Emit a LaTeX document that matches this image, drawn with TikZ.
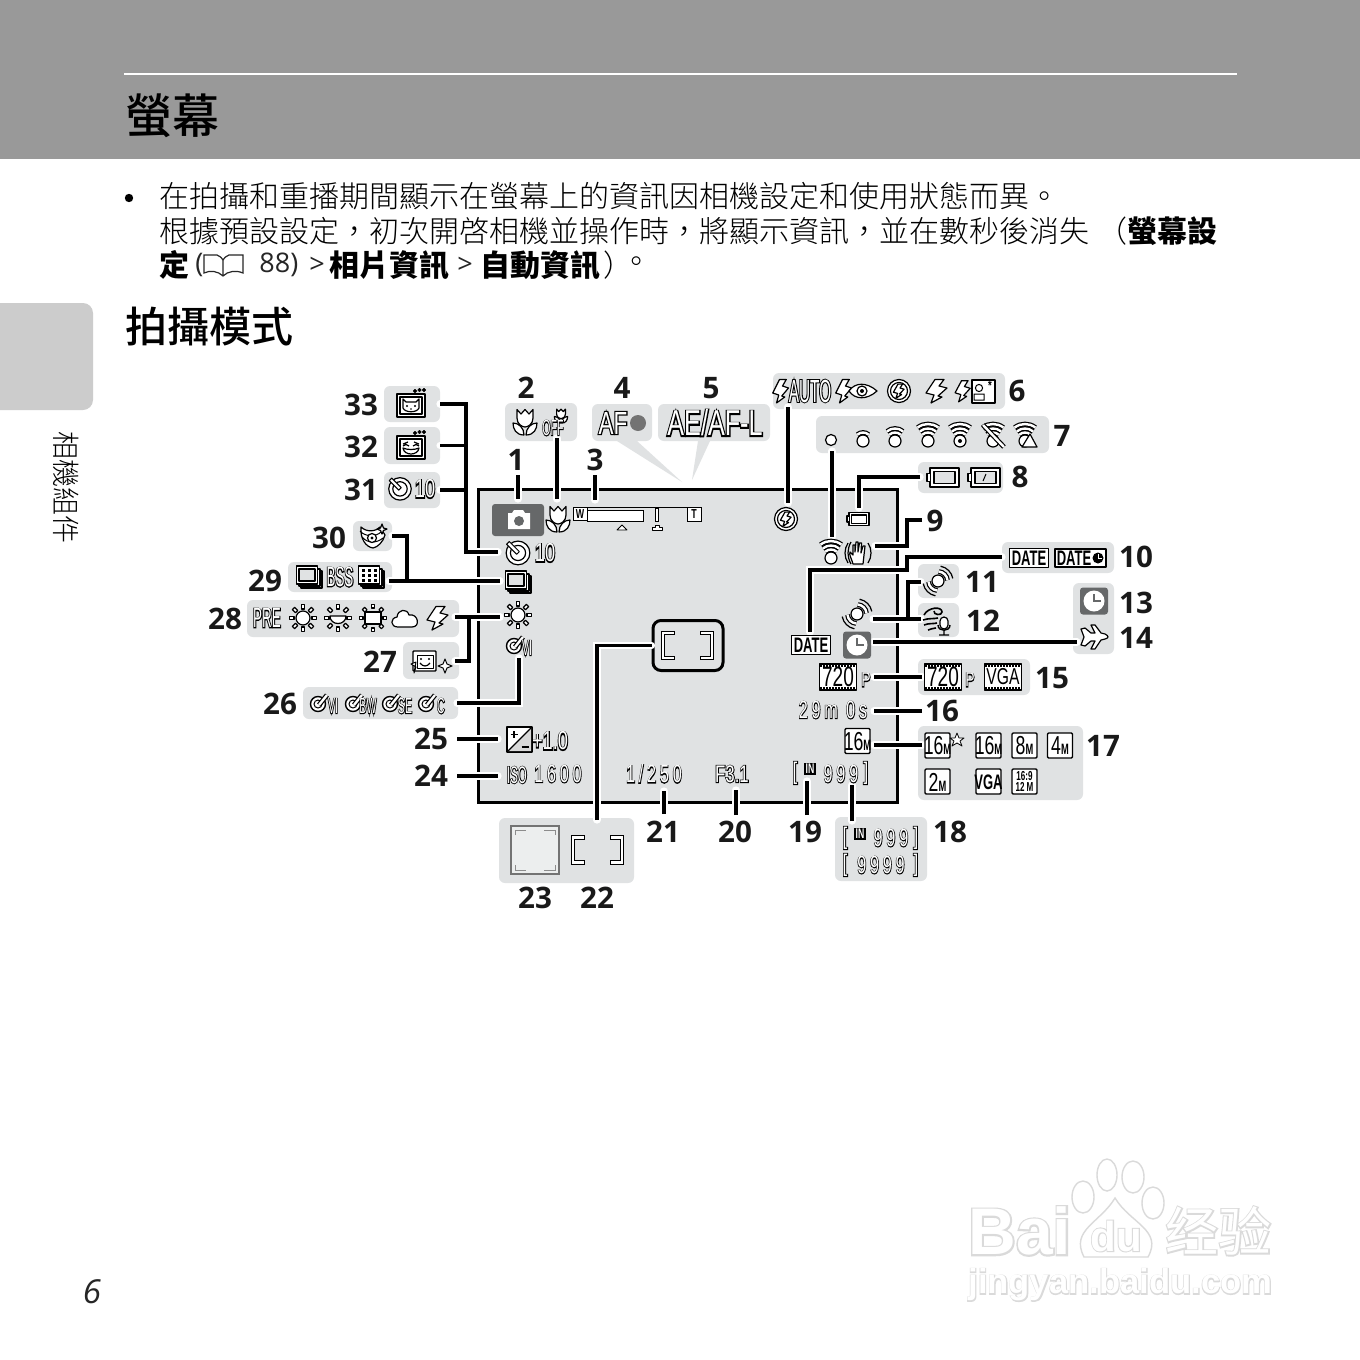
\documentclass[tikz,border=0pt]{standalone}
\usepackage{fontspec}
\setmainfont{Open Sans}
\newfontfamily\cjkl{Noto Sans CJK TC Light}
\newfontfamily\cjk{Noto Sans CJK TC}
\newfontfamily\cjkm{Noto Sans CJK TC Medium}
\newfontfamily\cjksc{Noto Sans CJK SC}
\newfontfamily\olbk[FakeStretch=.7,FakeBold=7]{Liberation Sans}
\newfontfamily\olwh[FakeStretch=.7]{Liberation Sans}
\newfontfamily\olnk[FakeStretch=.48,FakeBold=6]{Liberation Sans}
\newfontfamily\olnw[FakeStretch=.48]{Liberation Sans}
\newfontfamily\olbks[FakeStretch=.65,FakeBold=5,LetterSpace=15]{Liberation Sans}
\newfontfamily\olwhs[FakeStretch=.65,LetterSpace=15]{Liberation Sans}
\newfontfamily\nar[FakeStretch=.68]{Liberation Sans}
\newfontfamily\narb[FakeStretch=.62]{Liberation Sans Bold}
\newfontfamily\wmbk[FakeBold=5]{Liberation Sans Bold}
\newfontfamily\wmwh{Liberation Sans Bold}
\newfontfamily\wmcb[FakeBold=5]{Noto Sans CJK SC}
\definecolor{pane}{HTML}{E0E2E3}
\definecolor{hdr}{HTML}{999999}
\definecolor{tab}{HTML}{CCCCCC}
\definecolor{tile}{HTML}{666869}
\definecolor{wm}{HTML}{DADADA}
\newcommand\fz[1]{\fontsize{#1}{#1}\selectfont}
\newcommand\ol[1]{{\leavevmode\rlap{\olbk\color{black}#1}{\olwh\color{white}#1}}}
\newcommand\oln[1]{{\leavevmode\rlap{\olnk\color{black}#1}{\olnw\color{white}#1}}}
\newcommand\ols[1]{{\leavevmode\rlap{\olbks\color{black}#1}{\olwhs\color{white}#1}}}
\newcommand\wmt[1]{{\leavevmode\rlap{\wmbk\color{wm}#1}{\wmwh\color{white}#1}}}
\newcommand\wmc[1]{{\leavevmode\rlap{\wmcb\color{wm}#1}{\cjksc\color{white}#1}}}
\newcommand\Mk{{\narb\fz{7.5}M}}
\newcommand\gbox[5]{\node[gb,minimum width={(#4-#2)*0.5pt},minimum height={(#5-#3)*0.5pt}] (#1) at ({(#2+#4)/2},{(#3+#5)/2}) {};}
\newcommand\lab[3]{\node[lab] (L#1) at (#2,{#3+.8}) {#1};}
\newcommand\ict[5]{\node[ict] (#1) at (#2,#3) {\fz{#4}\ol{#5}};}
\newcommand\icn[5]{\node[ict] (#1) at (#2,#3) {\fz{#4}\ols{#5}};}
\newcommand\icc[5]{\node[ict] (#1) at (#2,#3) {\fz{#4}\oln{#5}};}
\tikzset{
 x=0.5pt,y=-0.5pt,
 gb/.style={fill=pane,rounded corners=3pt,inner sep=0pt,outer sep=0pt,draw=none},
 lab/.style={inner sep=0pt,font=\bfseries\fz{14.8},text=black!90},
 ict/.style={inner sep=0pt},
 lead/.style={draw=black,line width=1.7pt,preaction={draw=white,line width=3.6pt,line cap=round}},
 ic/.style={draw=black,fill=white,line width=.6pt,line join=round},
 band/.style={draw=black,line width=.6pt,double=white,double distance=1.2pt},
 body/.style={inner sep=0pt,anchor=west,font=\cjkl\fz{15}},
 bodyb/.style={inner sep=0pt,anchor=west,font=\cjk\bfseries\fz{15}},
 lat/.style={inner sep=0pt,anchor=west,font=\fz{13.5},text=black!85},
 pics/tulip/.style={code={
  \draw[ic] (-1,13) .. controls (-9,13) and (-12,7) .. (-12,1) .. controls (-6,1) and (-1,6) .. (-1,13) -- cycle;
  \draw[ic] (1,13) .. controls (9,13) and (12,7) .. (12,1) .. controls (6,1) and (1,6) .. (1,13) -- cycle;
  \draw[ic] (-8,-12.5) -- (-8,-4) .. controls (-8,2) and (-3,5) .. (0,5) .. controls (3,5) and (8,2) .. (8,-4) -- (8,-12.5) -- (4,-8) -- (0,-12.5) -- (-4,-8) -- cycle;
 }},
 pics/bolt/.style={code={\draw[ic] (-2,-11.5) -- (7,-11.5) -- (2,-5) -- (10,-3) -- (1,5) -- (5,6) -- (-6,12) -- (-3,4) -- (-11,2) -- cycle;}},
 pics/flashoff/.style={code={\draw[ic] (0,0) circle (11.5); \draw[ic] (0,0) circle (8.5); \pic[scale=.6,xscale=.85] at (0,0) {bolt};}},
 pics/wifi/.style={code={
  \ifnum#1>2 \draw[band] (0,5) ++(232:17) arc (232:308:17);\fi
  \ifnum#1>1 \draw[band] (0,5) ++(230:12.5) arc (230:310:12.5);\fi
  \draw[band] (0,5) ++(228:8.5) arc (228:312:8.5);
  \draw[ic] (0,5) circle (6);
 }},
 pics/batt/.style={code={
  \draw[ic,line width=.8pt] (-13,-9.5) rectangle (16,9.5);
  \draw[ic,line width=.8pt] (-13,-4) -- (-16,-4) -- (-16,4) -- (-13,4);
  \draw[ic,line width=.7pt,fill=#1] (-9,-6) rectangle (12,6);
 }},
 pics/hand/.style={code={
  \draw[ic] (-5,11) .. controls (-7,4) and (-9,2) .. (-8,-1) -- (-5,2) -- (-5,-8) -- (-3,-8) -- (-3,-1) -- (-2,-11) -- (0,-11) -- (0,-1) -- (1.5,-10) -- (3.5,-10) -- (3,0) -- (5,-7) -- (7,-7) -- (5,11) -- cycle;
  \draw[line width=.6pt] (-10,-10) .. controls (-14,-4) and (-14,4) .. (-10,10) (-7,-11) .. controls (-11,-4) and (-11,4) .. (-7,11) (10,-10) .. controls (14,-4) and (14,4) .. (10,10);
 }},
 pics/vr/.style={code={
  \draw[band] (0,0) ++(-85:9.5) arc (-85:-5:9.5);
  \draw[band] (0,0) ++(95:9.5) arc (95:175:9.5);
  \draw[line width=.6pt] (0,0) ++(-80:15) arc (-80:-10:15);
  \draw[line width=.6pt] (0,0) ++(100:15) arc (100:170:15);
  \draw[ic] (0,0) circle (6);
 }},
 pics/windmic/.style={code={
  \draw[line width=.8pt] (-14,-5) .. controls (-10,-13) and (4,-14) .. (4,-8) .. controls (4,-4) and (-5,-5) .. (-4,-9);
  \draw[line width=.8pt] (-15,0) .. controls (-9,-2) and (-4,-1) .. (0,-2) (-14,5) .. controls (-9,3) and (-5,4) .. (-1,3) (-10,10) .. controls (-7,8) and (-4,9) .. (-2,8);
  \draw[ic,rounded corners=2pt] (2,-3) rectangle (10,9);
  \draw[line width=.7pt] (0,5) .. controls (0,12) and (12,12) .. (12,5) (6,11) -- (6,15) (1,15) -- (11,15);
 }},
 pics/clock/.style={code={
  \fill[tile,rounded corners=1.5pt] (-14,-13.5) rectangle (14,13.5);
  \fill[white] (0,0) circle (10.5);
  \draw[tile,line width=1.2pt] (0,-7) -- (0,0) -- (7,0);
 }},
 pics/plane/.style={code={\draw[ic] (-13,-8) -- (-9,-9) -- (-3,-4) -- (1,-4) -- (-3,-12) -- (1,-12) -- (7,-4) -- (11,-3) .. controls (15,-1) and (15,1) .. (11,2) -- (7,3) -- (1,12) -- (-3,12) -- (1,4) -- (-3,4) -- (-9,9) -- (-13,8) -- (-10,0) -- cycle;}},
 pics/film/.style={code={
  \draw[ic] (-18.5,-13) rectangle (18.5,13);
  \draw[line width=1.3pt,dash pattern=on .9pt off .6pt] (-18,-11) -- (18,-11) (-18,11) -- (18,11);
  \node[inner sep=0pt] (t) at (0,0) {\nar\fz{14}#1};
 }},
 pics/szb/.style={code={
  \draw[ic,line width=.7pt,rounded corners=.6pt] (-12.5,-12.5) rectangle (12.5,12.5);
  \node[inner sep=0pt] (t) at (0,.5) {\nar\fz{13}#1};
 }},
 pics/sun/.style={code={
  \foreach \a in {0,45,...,315} \draw[ic,rotate=\a] (9,-1.6) rectangle (13.5,1.6);
  \draw[ic] (0,0) circle (7);
 }},
 pics/sunb/.style={code={
  \foreach \a in {0,45,...,315} \draw[ic,rotate=\a] (9,-1.6) rectangle (13.5,1.6);
  \draw[ic] (-8,-2) -- (8,-2) .. controls (8,8) and (-8,8) .. (-8,-2) -- cycle;
 }},
 pics/sunc/.style={code={
  \foreach \a in {0,45,...,315} \draw[ic,rotate=\a] (10,-1.6) rectangle (13.5,1.6);
  \draw[ic] (-8,-6) rectangle (8,6);
 }},
 pics/cloud/.style={code={\draw[ic] (-7,9) .. controls (-15,9) and (-15,0) .. (-8,-1) .. controls (-7,-9) and (2,-10) .. (4,-3) .. controls (13,-5) and (16,9) .. (7,9) -- cycle;}},
 pics/timer/.style={code={
  \draw[ic] (0,1) circle (12.5); \draw[ic] (0,1) circle (8);
  \draw[ic,line width=.5pt,rotate around={45:(0,1)}] (-2,1) rectangle (2,-14);
 }},
 pics/cont/.style={code={
  \draw[ic] (-8,-6) rectangle (13,11);
  \draw[ic] (-10,-8) rectangle (11,9);
  \draw[ic] (-12.5,-11) rectangle (8.5,7);
  \draw[ic,fill=pane] (-10,-8) rectangle (6,4);
 }},
 pics/gridc/.style={code={
  \draw[ic] (-8,-6) rectangle (13,11);
  \draw[ic] (-10,-8) rectangle (11,9);
  \draw[ic] (-12.5,-11) rectangle (8.5,7);
  \foreach \p in {-8,-2,4} \foreach \q in {-7,-2,3} \fill (\p-1,\q-1) rectangle (\p+2,\q+2);
 }},
 pics/petfr/.style={code={
  \draw[ic,line width=.8pt] (-14,-11) rectangle (14,12);
  \draw[ic] (-11,-8) rectangle (11,9);
  \draw[ic,fill=black,line width=.2pt] (4,-14) circle (1.8) (8.5,-15) circle (1.8) (13,-15) circle (1.8);
 }},
 pics/cat/.style={code={
  \pic at (0,0) {petfr};
  \draw[ic] (-8,-6) -- (-5,-3) -- (5,-3) -- (8,-6) -- (8,3) .. controls (6,8) and (-6,8) .. (-8,3) -- cycle;
  \fill (-4,1) circle (1.2) (4,1) circle (1.2) (0,4) circle (.9);
 }},
 pics/smile/.style={code={
  \pic at (0,0) {petfr};
  \draw[line width=.6pt] (-8,-3) -- (-3,-5) (8,-3) -- (3,-5) (-8,-1) .. controls (-6,-3) and (-4,-3) .. (-2,-1) (8,-1) .. controls (6,-3) and (4,-3) .. (2,-1);
  \draw[ic,fill=white] (-8,1) .. controls (-4,3) and (4,3) .. (8,1) .. controls (7,9) and (-7,9) .. (-8,1) -- cycle;
 }},
 pics/peteye/.style={code={
  \draw[ic] (-12,-9) .. controls (-6,-3) and (4,-5) .. (7,-9) -- (12,-1) .. controls (10,6) and (5,11) .. (0,12) .. controls (-7,11) and (-13,3) .. (-12,-9) -- cycle;
  \draw[line width=.5pt] (-13,-5) .. controls (-8,1) and (3,1) .. (8,-4) (-11,1) .. controls (-5,8) and (4,7) .. (10,2);
  \draw[ic] (-1,2) circle (4.5); \fill (-1,2) circle (1.7);
  \draw[ic] (9,-12) -- (10.5,-8) -- (14,-7) -- (10.5,-5.5) -- (9,-2) -- (7.5,-5.5) -- (4,-7) -- (7.5,-8) -- cycle;
 }},
 pics/spark/.style={code={
  \draw[ic,line width=.7pt,rounded corners=.4pt] (-12,-10) rectangle (11,10);
  \draw[ic,line width=.3pt] (-8,-6) rectangle (8,7);
  \fill (-4,-2) circle (1.2) (4,-2) circle (1.2);
  \draw[line width=.6pt] (-5,2) .. controls (-2,6) and (2,6) .. (5,2);
  \draw[ic,line width=.5pt] (20,-2) -- (22,3) -- (27,5) -- (22,7) -- (20,12) -- (18,7) -- (13,5) -- (18,3) -- cycle;
  \draw[ic,line width=.5pt] (-11,12) -- (-9,6) -- (-14,3) -- (-9,1) -- cycle;
 }},
 pics/effect/.style={code={
  \draw[ic,line width=.7pt] (0,0) circle (7.5);
  \draw[line width=.5pt] (0,0) circle (4);
  \draw[band] (1,1) -- (9,-9);
 }},
 pics/evb/.style={code={
  \draw[ic,line width=.8pt] (-12.5,-12.5) rectangle (12.5,12.5);
  \fill[black!15] (-11.5,11.5) -- (11.5,-11.5) -- (11.5,11.5) -- cycle;
  \draw[line width=.6pt] (-11.5,11.5) -- (11.5,-11.5);
  \draw[line width=.7pt] (-9,-5) -- (-2,-5) (-5.5,-8.5) -- (-5.5,-1.5) (2,7.5) -- (9,7.5);
 }},
 pics/brk/.style={code={
  \draw[band,line cap=rect] (2,-12.5) -- (-8,-12.5) -- (-8,12.5) -- (2,12.5);
  \draw[band,line cap=rect] (31,-12.5) -- (41,-12.5) -- (41,12.5) -- (31,12.5);
 }},
 pics/datebox/.style={code={
  \draw[ic,line width=.6pt] (-19.5,-9.5) rectangle (19.5,9.5);
  \node[inner sep=0pt] (t) at (0,0) {\narb\fz{10.5}DATE};
 }},
}
\begin{document}
\begin{tikzpicture}
\useasboundingbox (0,0) rectangle (1360,1360);
\fill[white] (0,0) rectangle (1360,1360);
% page furniture
\fill[hdr] (0,0) rectangle (1360,159);
\draw[white,line width=1pt] (124,74) -- (1237,74);
\node[inner sep=0pt,anchor=west,font=\cjkm\fz{23.5}] (title) at (125,116) {螢幕};
\fill (129,198) circle (4.2);
\node[body] (l1) at (159,196) {在拍攝和重播期間顯示在螢幕上的資訊因相機設定和使用狀態而異。};
\node[body] (l2) at (159,231) {根據預設設定，初次開啓相機並操作時，將顯示資訊，並在數秒後消失};
\node[inner sep=0pt,font=\cjkl\fz{15}] (l2p) at (1112,231) {（};
\node[bodyb] (l2b) at (1127,231) {螢幕設};
\node[bodyb] (l3a) at (159,265) {定};
\node[lat] (l3b) at (195,265) {(};
\draw[black!85,line width=.6pt] (204,255) -- (204,273) .. controls (210,270) and (218,271) .. (223,276) .. controls (228,271) and (236,270) .. (243,273) -- (243,255) -- (229,255) .. controls (226,256) and (224,258) .. (223,260) .. controls (222,258) and (220,256) .. (217,255) -- cycle (223,260) -- (223,276);
\node[lat] (l3c) at (259,265) {88)};
\node[lat] (l3d) at (309,265) {>};
\node[bodyb] (l3e) at (329,265) {相片資訊};
\node[lat] (l3f) at (457,265) {>};
\node[bodyb] (l3g) at (480,265) {自動資訊};
\node[inner sep=0pt,font=\cjkl\fz{15}] (l3h) at (618,265) {）};
\node[inner sep=0pt,font=\cjkl\fz{15}] (l3i) at (636,265) {。};
\node[inner sep=0pt,anchor=west,font=\cjkm\fz{21}] (sec) at (125,327) {拍攝模式};
\fill[tab] (0,303) -- (83,303) arc (-90:0:10) -- (93,400) arc (0:90:10) -- (0,410) -- cycle;
\node[inner sep=0pt,rotate=-90,font=\cjkl\fz{14}] (side) at (66,487) {相機組件};
\node[inner sep=0pt,font=\itshape\fz{16.5},text=black!85] (pg) at (92,1292) {6};
% callout boxes
\gbox{b33}{384}{386}{440}{422}
\gbox{b32}{384}{427}{440}{464}
\gbox{b31}{384}{472}{440}{508}
\gbox{b30}{353}{521}{392}{551}
\gbox{b29}{288}{562}{392}{592}
\gbox{b28}{247}{600}{459}{637}
\gbox{b27}{403}{642}{459}{679}
\gbox{b26}{303}{687}{458}{719}
\gbox{b2}{505}{403}{577}{441}
\gbox{b4}{592}{404}{652}{441}
\gbox{b5}{658}{404}{770}{441}
\gbox{b6}{773}{373}{1005}{409}
\gbox{b7}{816}{416}{1049}{453}
\gbox{b8}{918}{462}{1003}{493}
\gbox{b10}{1002}{542}{1114}{573}
\gbox{b11}{918}{564}{959}{598}
\gbox{b12}{918}{603}{959}{637}
\gbox{b13}{1073}{583}{1114}{654}
\gbox{b15}{918}{659}{1030}{695}
\gbox{b17}{918}{726}{1083}{800}
\gbox{b18}{835}{817}{927}{881}
\gbox{b22}{499}{818}{634}{883}
\fill[pane] (617,441) -- (682,482) -- (637,441) -- cycle;
\fill[pane] (698,441) -- (692,480) -- (710,441) -- cycle;
% screen
\node[draw=black,fill=pane,line width=1.5pt,inner sep=0pt,outer sep=0pt,minimum width=209.5pt,minimum height=156.5pt] (scr) at (687.5,645.5) {};
\node[draw=black,line width=1.5pt,rounded corners=4pt,inner sep=0pt,minimum width=35pt,minimum height=25pt] (foc) at (688,645.5) {};
% connector ends
\coordinate (a1) at (518,475); \coordinate (e1) at (518,499);
\coordinate (a2) at (557,438); \coordinate (e2) at (557,499);
\coordinate (a3) at (595,475); \coordinate (e3) at (595,500);
\coordinate (a6) at (788,407); \coordinate (e6) at (788,503);
\coordinate (a7) at (832,451); \coordinate (e7) at (832,537);
\coordinate (a8) at (920,477); \coordinate (e8) at (859,508);
\coordinate (a9) at (922,520); \coordinate (k9) at (907,546); \coordinate (e9) at (875,546);
\coordinate (a10) at (1002,557); \coordinate (k10) at (907,570); \coordinate (e10) at (810,632);
\coordinate (a11) at (921,582); \coordinate (k11) at (908,619); \coordinate (a12) at (921,619); \coordinate (e11) at (873,619);
\coordinate (a14) at (1077,642); \coordinate (e14) at (873,642);
\coordinate (a15) at (922,677); \coordinate (e15) at (874,677);
\coordinate (a16) at (922,711); \coordinate (e16) at (874,711);
\coordinate (a17) at (922,745); \coordinate (e17) at (874,745);
\coordinate (a18) at (852,821); \coordinate (e18) at (852,785);
\coordinate (a19) at (807,815); \coordinate (e19) at (807,781);
\coordinate (a20) at (736,815); \coordinate (e20) at (736,790);
\coordinate (a21) at (664,814); \coordinate (e21) at (664,791);
\coordinate (a22) at (597,820);
\coordinate (a24) at (457,776); \coordinate (e24) at (498,776);
\coordinate (a25) at (457,739); \coordinate (e25) at (498,739);
\coordinate (a26) at (457,703); \coordinate (e26) at (519,658);
\coordinate (a27) at (455,661); \coordinate (k27) at (469,617); \coordinate (a28) at (455,617); \coordinate (e28) at (500,617);
\coordinate (a29) at (389,581); \coordinate (e29) at (500,581); \coordinate (k30) at (407,581);
\coordinate (k33) at (466,552); \coordinate (e31) at (498,552);
% connectors
\draw[lead] (a1) -- (e1);
\draw[lead] (a2) -- (e2);
\draw[lead] (a3) -- (e3);
\draw[lead] (a6) -- (e6);
\draw[lead] (a7) -- (e7);
\draw[lead] (a8) -| (e8);
\draw[lead] (a9) -| (k9) -- (e9);
\draw[lead] (a10) -| (k10) -| (e10);
\draw[lead] (a11) -| (k11) (a12) -- (e11);
\draw[lead] (a14) -- (e14);
\draw[lead] (a15) -- (e15);
\draw[lead] (a16) -- (e16);
\draw[lead] (a17) -- (e17);
\draw[lead] (a18) -- (e18);
\draw[lead] (a19) -- (e19);
\draw[lead] (a20) -- (e20);
\draw[lead] (a21) -- (e21);
\draw[lead] (a22) |- (foc.west);
\draw[lead] (a24) -- (e24);
\draw[lead] (a25) -- (e25);
\draw[lead] (a26) -| (e26);
\draw[lead] (a27) -| (k27) (a28) -- (e28);
\draw[lead] (a29) -- (e29) (b30.east) -| (k30);
\draw[lead] (b33.east) -| (k33) -- (e31) (b32.east) -- (b32.east -| k33) (b31.east) -- (b31.east -| k33);
% labels
\lab{1}{516}{459}\lab{2}{526}{387}\lab{3}{595}{459}\lab{4}{622}{387}\lab{5}{711}{387}
\lab{6}{1017}{390}\lab{7}{1062}{435}\lab{8}{1020}{476}\lab{9}{935}{520}\lab{10}{1136}{556}
\lab{11}{982}{581}\lab{12}{983}{620}\lab{13}{1136}{602}\lab{14}{1136}{637}\lab{15}{1052}{677}
\lab{16}{942}{710}\lab{17}{1103}{745}\lab{18}{950}{831}\lab{19}{805}{831}\lab{20}{735}{831}
\lab{21}{663}{831}\lab{22}{597}{897}\lab{23}{535}{897}\lab{24}{431}{775}\lab{25}{431}{738}
\lab{26}{280}{703}\lab{27}{380}{661}\lab{28}{225}{618}\lab{29}{265}{580}\lab{30}{329}{537}
\lab{31}{361}{489}\lab{32}{361}{446}\lab{33}{361}{404}
% mode tile
\fill[tile,rounded corners=1.5pt] (492,504) rectangle (544,536);
\fill[white] (508,513) -- (512,513) -- (514,510) -- (523,510) -- (525,513) -- (530,513) -- (530,529) -- (508,529) -- cycle;
\fill[tile] (519,521) circle (5);
\pic at (558,519) {tulip};
\pic at (525,422) {tulip};
\pic[scale=.55] at (561,416) {tulip};
\icc{off}{553}{428}{11}{OFF}
% zoom bar
\draw[black,fill=white,line width=.5pt] (573,507) rectangle (587,520);
\node[inner sep=0pt,font=\nar\bfseries\fz{6.5}] (zw) at (580,514) {W};
\draw[black,fill=white,line width=.5pt] (687,507) rectangle (701,521);
\node[inner sep=0pt,font=\nar\bfseries\fz{6.5}] (zt) at (694,514) {T};
\draw[black,line width=.5pt] (587,507) -- (687,507);
\draw[black,fill=white,line width=.5pt] (587,510) rectangle (643,521);
\draw[black,fill=white,line width=.4pt] (655,508) rectangle (658,521);
\draw[ic,line width=.4pt] (617,530) -- (622,525) -- (627,530) -- cycle;
\draw[ic,line width=.4pt] (652,530) -- (652,527) -- (655,527) -- (655,525) -- (659,525) -- (659,527) -- (662,527) -- (662,530) -- cycle;
% AF / AE
\ict{af}{613}{423}{16}{AF}
\fill[black!55] (638,423) circle (8);
\ict{ae}{715}{423}{18}{AE/AF-L}
% row 6
\pic[xscale=.75] at (781,391) {bolt};
\icc{auto}{810}{391}{16}{AUTO}
\pic[xscale=.75] at (844,391) {bolt};
\draw[ic] (849,391) .. controls (855,382) and (867,382) .. (877,391) .. controls (867,400) and (855,400) .. (849,391) -- cycle;
\draw[ic] (862,391) circle (5); \fill (862,391) circle (2);
\pic at (899,391) {flashoff};
\pic at (937,391) {bolt};
\pic[scale=.9,xscale=.8] at (963,391) {bolt};
\draw[ic] (972,380) rectangle (995,403);
\draw[line width=.5pt] (979,388) circle (3.6) (974,394) rectangle (984,400);
\node[inner sep=0pt,font=\nar\bfseries\fz{7}] (star6) at (990,386) {*};
% row 7
\draw[ic] (831,440) circle (5.5);
\pic at (863,436) {wifi=1};
\pic at (895,436) {wifi=2};
\pic at (928,436) {wifi=3};
\pic at (960,436) {wifi=3};
\fill (960,441) circle (2);
\pic at (993,436) {wifi=3};
\draw[band] (983,425) -- (1004,447);
\pic at (1025,436) {wifi=3};
\draw[ic] (1022,447) -- (1030,434) -- (1037,447) -- cycle;
% battery
\pic at (943,477.5) {batt=pane};
\pic at (984,477.5) {batt=pane};
\draw[line width=.5pt] (983,481) -- (986,474);
\pic[scale=.7] at (858,519) {batt=white};
\pic at (786,519) {flashoff};
% screen right column
\pic at (831,553) {wifi=3};
\pic at (858,553) {hand};
\pic at (1029,558) {datebox};
\draw[ic,line width=.6pt] (1055,549) rectangle (1106,567);
\node[inner sep=0pt,font=\narb\fz{10.5}] (date2) at (1074,558) {DATE};
\fill (1098,558) circle (5.5);
\draw[white,line width=.5pt] (1098,554) -- (1098,558) -- (1102,558);
\pic at (811,645) {datebox};
\pic at (938,581) {vr};
\pic at (857,614) {vr};
\pic at (938,620) {windmic};
\pic at (857,645) {clock};
\pic at (1094,601) {clock};
\pic at (1094,637) {plane};
\pic at (838,677) {film={720}};
\ict{p1}{866}{680}{10}{P}
\pic at (943,677) {film={720}};
\ict{p2}{970}{680}{10}{P}
\pic at (1003,677) {film={\fz{11.5}VGA}};
\icn{rem}{833}{710}{12.5}{29m 0s}
\pic at (857.5,741) {szb={16\Mk}};
% size row
\pic at (937.5,745.5) {szb={16\Mk}};
\draw[ic,line width=.4pt] (957,733) -- (959,738) -- (964,738) -- (960,741) -- (962,746) -- (957,743) -- (952,746) -- (954,741) -- (950,738) -- (955,738) -- cycle;
\pic at (988.5,745.5) {szb={16\Mk}};
\pic at (1024.5,745.5) {szb={8\Mk}};
\pic at (1060,745.5) {szb={4\Mk}};
\pic at (937.5,781.5) {szb={2\Mk}};
\pic at (988.5,781.5) {szb={\narb\fz{10.5}VGA}};
\draw[ic,line width=.7pt,rounded corners=.6pt] (1012,769) rectangle (1037,794);
\node[inner sep=0pt,align=center,font=\narb\fz{6.5}] (s12) at (1024.5,781.5) {16:9\\[-1pt]12 M};
% bottom row
\ict{f}{732}{774}{12}{F3.1}
\icn{sp}{654}{774}{12.5}{1/250}
\icn{iso}{558}{774}{12.5}{1600}
\icc{isol}{517}{775}{12}{ISO}
\ict{ev}{550}{741}{13}{+1.0}
\pic at (519.5,739.5) {evb};
\ict{bl1}{795}{773}{12}{[}
\node[inner sep=.6pt,fill=black,text=white,font=\narb\fz{7}] (in1) at (810,769) {IN};
\icn{n1}{841}{774}{12.5}{999}
\ict{br1}{866}{773}{12}{]}
\ict{bl2}{845}{838}{12}{[}
\node[inner sep=.6pt,fill=black,text=white,font=\narb\fz{7}] (in2) at (860,834) {IN};
\icn{n2}{891}{838}{12.5}{999}
\ict{br2}{916}{838}{12}{]}
\ict{bl3}{845}{865}{12}{[}
\icn{n3}{881}{865}{12.5}{9999}
\ict{br3}{916}{865}{12}{]}
% focus
\pic at (671,645.5) {brk};
\pic at (581,850) {brk};
\draw[black!55,fill=pane!60,line width=.7pt] (511,826) rectangle (559,874);
\draw[black!45,line width=.4pt] (515,835) -- (515,830) -- (526,830) (544,830) -- (555,830) -- (555,835) (515,865) -- (515,870) -- (526,870) (544,870) -- (555,870) -- (555,865);
% left column icons
\pic[scale=.95] at (518,552) {timer};
\ict{t10a}{545}{553}{13}{10}
\pic[scale=.9] at (400,488) {timer};
\ict{t10b}{425}{489}{13}{10}
\pic at (411,405) {cat};
\pic at (411,447) {smile};
\pic at (373,536) {peteye};
\pic at (309,577) {cont};
\icc{bss}{340}{577}{14}{BSS}
\pic at (371,577) {gridc};
\pic at (518,582) {cont};
\icc{pre}{267}{618}{14}{PRE}
\pic at (303,618) {sun};
\pic at (338,618) {sunb};
\pic at (373,618) {sunc};
\pic at (405,618) {cloud};
\pic at (438,618) {bolt};
\pic at (518,615) {sun};
\pic at (425,661) {spark};
\pic at (514,646) {effect};
\icc{vi0}{527}{648}{11}{VI}
\pic at (318,704) {effect};
\icc{vi}{333}{706}{11}{VI}
\pic at (353,704) {effect};
\icc{bw}{368}{706}{11}{BW}
\pic at (390,704) {effect};
\icc{se}{405}{706}{11}{SE}
\pic at (426,704) {effect};
\icc{cc}{441}{706}{11}{C}
% watermark
\begin{scope}[draw=wm,fill=white,line width=.7pt]
\path[draw] (1083,1197) ellipse (11 and 16);
\path[draw] (1107,1175) ellipse (10 and 16);
\path[draw] (1133,1177) ellipse (11 and 16);
\path[draw] (1153,1203) ellipse (11 and 16);
\path[draw] (1084,1257) .. controls (1070,1230) and (1100,1223) .. (1115,1198) .. controls (1130,1223) and (1163,1230) .. (1148,1257) -- cycle;
\end{scope}
\node[inner sep=0pt,anchor=west] (wba) at (968,1231) {\fz{33}\wmt{Bai}};
\node[inner sep=0pt] (wdu) at (1116,1236) {\fz{21}\wmt{du}};
\node[inner sep=0pt,anchor=west] (wjy) at (1165,1231) {\fz{26.5}\wmc{经验}};
\node[inner sep=0pt,anchor=west] (wur) at (968,1285) {\fz{17.3}\wmt{jingyan.baidu.com}};
\end{tikzpicture}
\end{document}
